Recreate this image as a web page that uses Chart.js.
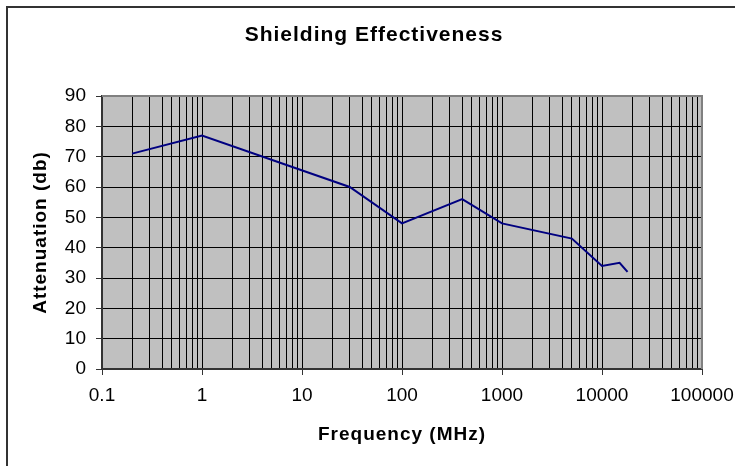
<!DOCTYPE html>
<html lang="en">
<head>
<meta charset="UTF-8">
<title>Shielding Effectiveness</title>
<style>
  body { margin: 0; background: #fff; }
  #wrap { width: 735px; height: 466px; }
</style>
</head>
<body>
<div id="wrap"><canvas id="seChart"></canvas></div>
<script src="https://cdn.jsdelivr.net/npm/chart.js"></script>
<script>
// values
var frequency = [0.2, 1, 30, 100, 400, 1000, 5000, 10000, 15000, 18000];
var attenuation = [71, 77, 60, 48, 56, 48, 43, 34, 35, 32];
var xTickLabels = ['0.1', '1', '10', '100', '1000', '10000', '100000'];
var yMin = 0, yMax = 90, yStep = 10;

var fontFamily = "'Liberation Sans', Arial, sans-serif";
var decades = xTickLabels.map(Number);

// log grid: 1..9 in every decade, plus the last decade
var xGridValues = [];
decades.forEach(function(d, i) {
    if (i === decades.length - 1) { xGridValues.push(d); return; }
    for (var m = 1; m <= 9; m++) xGridValues.push(d * m);
});

var points = frequency.map(function(f, i) { return {x: f, y: attenuation[i]}; });

// grey plot area, outer frame, letter spacing for the titles
var excelLook = {
    id: 'excelLook',
    beforeDraw: function(chart) {
        var ctx = chart.ctx, a = chart.chartArea;
        ctx.save();
        ctx.fillStyle = '#c0c0c0';
        ctx.fillRect(a.left, a.top, a.right - a.left, a.bottom - a.top);
        ctx.strokeStyle = '#333';
        ctx.lineWidth = 2;
        ctx.strokeRect(7, 7, 800, 500);
        ctx.restore();
        ctx.letterSpacing = '1px';
    },
    beforeDatasetsDraw: function(chart) {
        var ctx = chart.ctx, a = chart.chartArea;
        ctx.letterSpacing = '0px';
        ctx.save();
        ctx.strokeStyle = '#808080';
        ctx.lineWidth = 2;
        ctx.beginPath();
        ctx.moveTo(a.left, a.top);
        ctx.lineTo(a.right, a.top);
        ctx.lineTo(a.right, a.bottom);
        ctx.stroke();
        ctx.restore();
    },
    afterDraw: function(chart) {
        chart.ctx.letterSpacing = '0px';
    }
};

var seChart = new Chart(document.getElementById('seChart'), {
    type: 'scatter',
    data: {
        datasets: [{
            label: 'Attenuation',
            data: points,
            showLine: true,
            borderColor: '#000080',
            backgroundColor: '#000080',
            borderWidth: 2,
            pointRadius: 0,
            tension: 0
        }]
    },
    options: {
        responsive: true,
        maintainAspectRatio: false,
        animation: false,
        layout: { padding: { left: 46, right: 33, top: 0, bottom: 0 } },
        scales: {
            x: {
                type: 'logarithmic',
                min: 0.1,
                max: 100000,
                afterBuildTicks: function(scale) {
                    scale.ticks = xGridValues.map(function(v) {
                        return { value: v, major: decades.indexOf(v) >= 0 };
                    });
                },
                afterFit: function(scale) {
                    scale.height = 97;
                    scale.paddingLeft = 0;
                    scale.paddingRight = 0;
                },
                grid: {
                    color: '#000',
                    lineWidth: 1,
                    tickLength: 6,
                    tickColor: function(c) {
                        return c.tick && decades.indexOf(c.tick.value) >= 0 ? '#333' : 'rgba(0,0,0,0)';
                    }
                },
                border: { color: '#333', width: 2 },
                ticks: {
                    autoSkip: false,
                    maxRotation: 0,
                    minRotation: 0,
                    padding: 9,
                    z: 1,
                    color: '#000',
                    font: { family: fontFamily, size: 19 },
                    callback: function(value) {
                        var i = decades.indexOf(value);
                        return i >= 0 ? xTickLabels[i] : '';
                    }
                },
                title: {
                    display: true,
                    text: 'Frequency (MHz)',
                    color: '#000',
                    font: { family: fontFamily, size: 19, weight: 'bold' },
                    padding: { top: 0, bottom: 20 }
                }
            },
            y: {
                min: yMin,
                max: yMax,
                afterFit: function(scale) {
                    scale.width = 56;
                    scale.paddingTop = 0;
                    scale.paddingBottom = 0;
                },
                grid: { color: '#000', lineWidth: 1, tickLength: 6, tickColor: '#333' },
                border: { color: '#333', width: 2 },
                ticks: {
                    stepSize: yStep,
                    padding: 10,
                    z: 1,
                    color: '#000',
                    font: { family: fontFamily, size: 19 }
                },
                title: {
                    display: true,
                    text: 'Attenuation (db)',
                    color: '#000',
                    font: { family: fontFamily, size: 19, weight: 'bold' },
                    padding: { top: -16.4, bottom: 0 }
                }
            }
        },
        plugins: {
            legend: { display: false },
            tooltip: { enabled: false },
            title: {
                display: true,
                text: 'Shielding Effectiveness',
                color: '#000',
                font: { family: fontFamily, size: 21, weight: 'bold' },
                padding: { top: 22.4, bottom: 48.4 }
            }
        }
    },
    plugins: [excelLook]
});
</script>
</body>
</html>
